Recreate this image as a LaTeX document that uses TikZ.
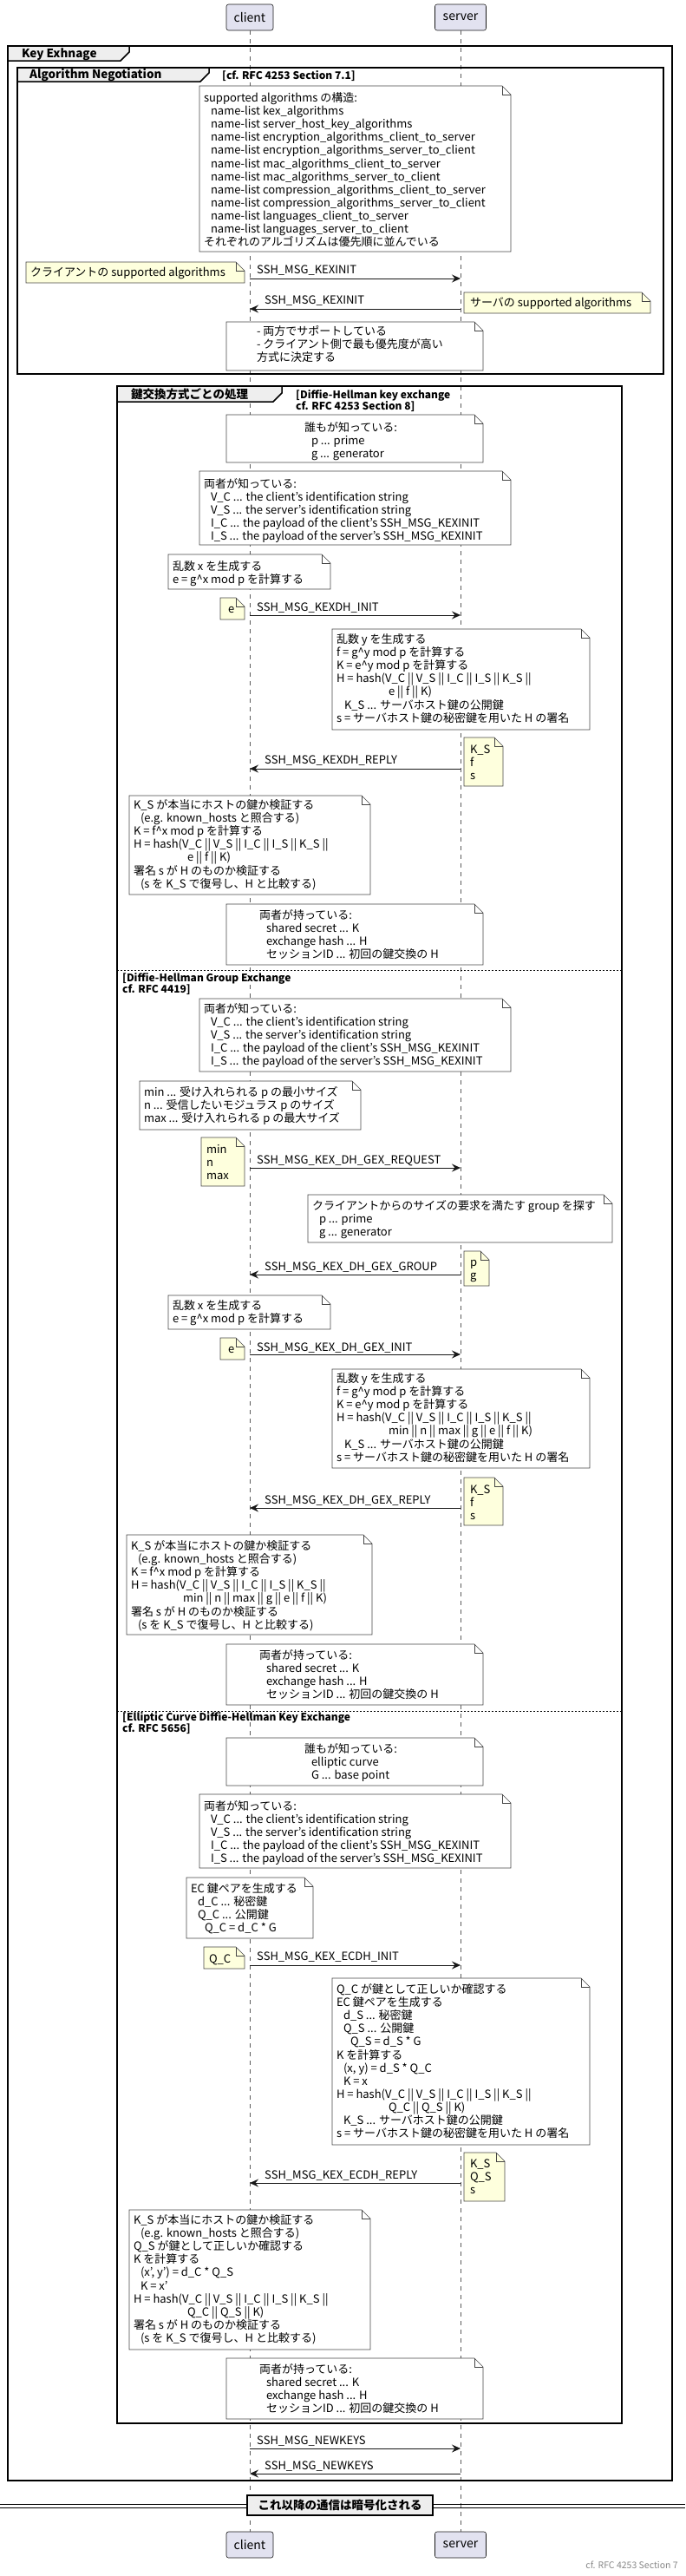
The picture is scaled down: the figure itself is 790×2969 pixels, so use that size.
\documentclass[tikz,border=0pt]{standalone}
\usepackage{fontspec}
\setmainfont{Noto Sans CJK JP}
\usetikzlibrary{arrows.meta,fit}
\definecolor{lineclr}{HTML}{181818}
\definecolor{partfill}{HTML}{E2E2F0}
\definecolor{notey}{HTML}{FEFFDD}
\definecolor{tabfill}{HTML}{EEEEEE}
\definecolor{footgray}{HTML}{888888}
\newcommand{\ind}[1][8]{\hspace*{#1pt}}
\newcommand{\ca}{\textasciicircum}
\newcommand{\ml}[1]{\vtop{\let\\\cr\halign{##\hfil\cr#1\crcr}}}
\newcommand{\notebox}[6]{%
  \coordinate (#1-a) at (#2,#3);
  \coordinate (#1-b) at (#4,#5);
  \node[fit=(#1-a)(#1-b), inner sep=0pt, outer sep=0pt] (#1) {};
  \filldraw[notepath, fill=#6] (#1.north west) -- ([xshift=-10pt]#1.north east) -- ([yshift=-10pt]#1.north east) -- (#1.south east) -- (#1.south west) -- cycle;
  \draw[notepath] ([xshift=-10pt]#1.north east) |- ([yshift=-10pt]#1.north east);
}
\begin{document}
\begin{tikzpicture}[x=1pt,y=-1pt,
  notetext/.style={font=\fontsize{13}{15.1}\selectfont, inner sep=0pt, outer sep=0pt, anchor=base west},
  lbl/.style={font=\fontsize{13}{15}\selectfont, inner sep=0pt, anchor=base west},
  ttl/.style={font=\fontsize{13.5}{15}\selectfont\bfseries, inner sep=0pt, anchor=base west},
  guard/.style={font=\fontsize{12}{13}\selectfont\bfseries, inner sep=0pt, anchor=base west},
  part/.style={draw=lineclr, fill=partfill, line width=0.6pt, rounded corners=2.5pt, minimum height=30pt, font=\fontsize{14}{16}\selectfont, inner sep=0pt},
  life/.style={draw=lineclr!70, line width=0.6pt, dash pattern=on 5pt off 5pt},
  msg/.style={draw=lineclr, line width=1pt, -{Stealth[length=10pt,width=9pt,inset=3.5pt]}},
  notepath/.style={draw=lineclr!80, line width=0.6pt},
  framebox/.style={draw=black, line width=1.5pt},
  tab/.style={draw=black, line width=1.5pt, fill=tabfill},
  sep/.style={draw=black, line width=0.8pt, dash pattern=on 2pt off 2pt},
]
\useasboundingbox (0,0) rectangle (790,2969);
\fill[white] (0,0) rectangle (790,2969);

% participants
\node[part, minimum width=54pt] (clientT) at (288,20) {client};
\node[part, minimum width=59pt] (serverT) at (531,20) {server};
\node[part, minimum width=54pt] (clientB) at (288,2933) {client};
\node[part, minimum width=59pt] (serverB) at (531,2933) {server};
\draw[life] (clientT.south) -- (clientB.north);
\draw[life] (serverT.south) -- (serverB.north);

% frames
\draw[framebox] (9,53) rectangle (775,2859);
\filldraw[tab] (9,53) -- (149,53) -- (149,60) -- (139,70) -- (9,70) -- cycle;
\node[ttl] (keT) at (25,66.5) {Key Exhnage};

\draw[framebox] (20,78) rectangle (765,431);
\filldraw[tab] (20,78) -- (241,78) -- (241,84) -- (231,94) -- (20,94) -- cycle;
\node[ttl] (anT) at (34,90.5) {Algorithm Negotiation};
\node[guard] (anG) at (256,91) {[cf. RFC 4253 Section 7.1]};

\draw[framebox] (135,445) rectangle (717,2793);
\filldraw[tab] (135,445) -- (325,445) -- (325,453) -- (315,463) -- (135,463) -- cycle;
\node[ttl] (altT) at (151,459) {鍵交換方式ごとの処理};
\node[guard] (altG1) at (341,459) {\ml{[Diffie-Hellman key exchange\\cf. RFC 4253 Section 8]}};
\draw[sep] (135,1118) -- (717,1118);
\node[guard] (altG2) at (141,1131) {\ml{[Diffie-Hellman Group Exchange\\cf. RFC 4419]}};
\draw[sep] (135,1972) -- (717,1972);
\node[guard] (altG3) at (141,1983) {\ml{[Elliptic Curve Diffie-Hellman Key Exchange\\cf. RFC 5656]}};

% ---------- Algorithm negotiation
\notebox{n1}{230}{99}{589}{290}{white}
\node[notetext] (n1t) at (235,117.5) {\ml{supported algorithms の構造:\\
\ind name-list kex\_algorithms\\
\ind name-list server\_host\_key\_algorithms\\
\ind name-list encryption\_algorithms\_client\_to\_server\\
\ind name-list encryption\_algorithms\_server\_to\_client\\
\ind name-list mac\_algorithms\_client\_to\_server\\
\ind name-list mac\_algorithms\_server\_to\_client\\
\ind name-list compression\_algorithms\_client\_to\_server\\
\ind name-list compression\_algorithms\_server\_to\_client\\
\ind name-list languages\_client\_to\_server\\
\ind name-list languages\_server\_to\_client\\
それぞれのアルゴリズムは優先順に並んでいる}};

\notebox{nL}{30}{302}{282}{326}{notey}
\node[notetext] (nLt) at (35,318.5) {クライアントの supported algorithms};
\coordinate (c1) at (288,321); \coordinate (s1) at (531,321);
\draw[msg] (c1) -- (s1);
\node[lbl] (l1) at (296,315.5) {SSH\_MSG\_KEXINIT};

\notebox{nR}{535}{337}{750}{361}{notey}
\node[notetext] (nRt) at (542,353.5) {サーバの supported algorithms};
\coordinate (c2) at (288,356); \coordinate (s2) at (531,356);
\draw[msg] (s2) -- (c2);
\node[lbl] (l2) at (305,350.5) {SSH\_MSG\_KEXINIT};

\notebox{n3}{261}{371}{557}{427}{white}
\node[notetext] (n3t) at (296,386.5) {\ml{- 両方でサポートしている\\- クライアント側で最も優先度が高い\\方式に決定する}};

% ---------- DH
\notebox{d1}{261}{478}{557}{533}{white}
\node[notetext] (d1t) at (351,497.5) {\ml{誰もが知っている:\\\ind p ... prime\\\ind g ... generator}};

\notebox{d2}{230}{543}{589}{628}{white}
\node[notetext] (d2t) at (235,562.5) {\ml{両者が知っている:\\
\ind V\_C ... the client's identification string\\
\ind V\_S ... the server's identification string\\
\ind I\_C ... the payload of the client's SSH\_MSG\_KEXINIT\\
\ind I\_S ... the payload of the server's SSH\_MSG\_KEXINIT}};

\notebox{d3}{194}{639}{381}{679}{white}
\node[notetext] (d3t) at (199,657.5) {\ml{乱数 x を生成する\\e = g\ca x mod p を計算する}};

\notebox{d4}{254}{689}{282}{714}{notey}
\node[notetext] (d4t) at (263,706) {e};
\coordinate (c3) at (288,709); \coordinate (s3) at (531,709);
\draw[msg] (c3) -- (s3);
\node[lbl] (l3) at (296,704.5) {SSH\_MSG\_KEXDH\_INIT};

\notebox{d5}{383}{725}{680}{841}{white}
\node[notetext] (d5t) at (388,741.5) {\ml{乱数 y を生成する\\
f = g\ca y mod p を計算する\\
K = e\ca y mod p を計算する\\
H = hash(V\_C || V\_S || I\_C || I\_S || K\_S ||\\
\ind[60]e || f || K)\\
\ind[9]K\_S ... サーバホスト鍵の公開鍵\\
s = サーバホスト鍵の秘密鍵を用いた H の署名}};

\notebox{d6}{535}{850}{580}{906}{notey}
\node[notetext] (d6t) at (542,868.5) {\ml{K\_S\\f\\s}};
\coordinate (c4) at (288,886); \coordinate (s4) at (531,886);
\draw[msg] (s4) -- (c4);
\node[lbl] (l4) at (305,880.5) {SSH\_MSG\_KEXDH\_REPLY};

\notebox{d7}{149}{917}{427}{1031}{white}
\node[notetext] (d7t) at (154,932.5) {\ml{K\_S が本当にホストの鍵か検証する\\
\ind (e.g. known\_hosts と照合する)\\
K = f\ca x mod p を計算する\\
H = hash(V\_C || V\_S || I\_C || I\_S || K\_S ||\\
\ind[62]e || f || K)\\
署名 s が H のものか検証する\\
\ind (s を K\_S で復号し、H と比較する)}};

\notebox{d8}{261}{1042}{557}{1112}{white}
\node[notetext] (d8t) at (299,1059.5) {\ml{両者が持っている:\\
\ind shared secret ... K\\
\ind exchange hash ... H\\
\ind セッションID ... 初回の鍵交換の H}};

% ---------- DH group exchange
\notebox{g1}{230}{1151}{589}{1235}{white}
\node[notetext] (g1t) at (235,1167.5) {\ml{両者が知っている:\\
\ind V\_C ... the client's identification string\\
\ind V\_S ... the server's identification string\\
\ind I\_C ... the payload of the client's SSH\_MSG\_KEXINIT\\
\ind I\_S ... the payload of the server's SSH\_MSG\_KEXINIT}};

\notebox{g2}{161}{1246}{416}{1302}{white}
\node[notetext] (g2t) at (166,1263.5) {\ml{min ... 受け入れられる p の最小サイズ\\
n ... 受信したいモジュラス p のサイズ\\
max ... 受け入れられる p の最大サイズ}};

\notebox{g3}{232}{1311}{282}{1367}{notey}
\node[notetext] (g3t) at (238,1329.5) {\ml{min\\n\\max}};
\coordinate (c5) at (288,1346); \coordinate (s5) at (531,1346);
\draw[msg] (c5) -- (s5);
\node[lbl] (l5) at (296,1341.5) {SSH\_MSG\_KEX\_DH\_GEX\_REQUEST};

\notebox{g4}{355}{1377}{706}{1432}{white}
\node[notetext] (g4t) at (360,1394.5) {\ml{クライアントからのサイズの要求を満たす group を探す\\
\ind p ... prime\\
\ind g ... generator}};

\notebox{g5}{535}{1442}{564}{1482}{notey}
\node[notetext] (g5t) at (542,1459.5) {\ml{p\\g}};
\coordinate (c6) at (288,1469); \coordinate (s6) at (531,1469);
\draw[msg] (s6) -- (c6);
\node[lbl] (l6) at (305,1464.5) {SSH\_MSG\_KEX\_DH\_GEX\_GROUP};

\notebox{g6}{194}{1493}{381}{1532}{white}
\node[notetext] (g6t) at (199,1509.5) {\ml{乱数 x を生成する\\e = g\ca x mod p を計算する}};

\notebox{g7}{254}{1542}{282}{1567}{notey}
\node[notetext] (g7t) at (263,1559) {e};
\coordinate (c7) at (288,1561); \coordinate (s7) at (531,1561);
\draw[msg] (c7) -- (s7);
\node[lbl] (l7) at (296,1557.5) {SSH\_MSG\_KEX\_DH\_GEX\_INIT};

\notebox{g8}{383}{1578}{680}{1692}{white}
\node[notetext] (g8t) at (388,1593.5) {\ml{乱数 y を生成する\\
f = g\ca y mod p を計算する\\
K = e\ca y mod p を計算する\\
H = hash(V\_C || V\_S || I\_C || I\_S || K\_S ||\\
\ind[60]min || n || max || g || e || f || K)\\
\ind[9]K\_S ... サーバホスト鍵の公開鍵\\
s = サーバホスト鍵の秘密鍵を用いた H の署名}};

\notebox{g9}{535}{1703}{580}{1758}{notey}
\node[notetext] (g9t) at (542,1721.5) {\ml{K\_S\\f\\s}};
\coordinate (c8) at (288,1738); \coordinate (s8) at (531,1738);
\draw[msg] (s8) -- (c8);
\node[lbl] (l8) at (305,1733.5) {SSH\_MSG\_KEX\_DH\_GEX\_REPLY};

\notebox{g10}{146}{1769}{429}{1884}{white}
\node[notetext] (g10t) at (151,1786.5) {\ml{K\_S が本当にホストの鍵か検証する\\
\ind (e.g. known\_hosts と照合する)\\
K = f\ca x mod p を計算する\\
H = hash(V\_C || V\_S || I\_C || I\_S || K\_S ||\\
\ind[60]min || n || max || g || e || f || K)\\
署名 s が H のものか検証する\\
\ind (s を K\_S で復号し、H と比較する)}};

\notebox{g11}{261}{1895}{557}{1965}{white}
\node[notetext] (g11t) at (299,1912.5) {\ml{両者が持っている:\\
\ind shared secret ... K\\
\ind exchange hash ... H\\
\ind セッションID ... 初回の鍵交換の H}};

% ---------- ECDH
\notebox{e1}{261}{2003}{557}{2058}{white}
\node[notetext] (e1t) at (351,2020.5) {\ml{誰もが知っている:\\\ind elliptic curve\\\ind G ... base point}};

\notebox{e2}{230}{2068}{589}{2153}{white}
\node[notetext] (e2t) at (235,2086.5) {\ml{両者が知っている:\\
\ind V\_C ... the client's identification string\\
\ind V\_S ... the server's identification string\\
\ind I\_C ... the payload of the client's SSH\_MSG\_KEXINIT\\
\ind I\_S ... the payload of the server's SSH\_MSG\_KEXINIT}};

\notebox{e3}{215}{2164}{361}{2234}{white}
\node[notetext] (e3t) at (220,2181.5) {\ml{EC 鍵ペアを生成する\\
\ind d\_C ... 秘密鍵\\
\ind Q\_C ... 公開鍵\\
\ind[16]Q\_C = d\_C * G}};

\notebox{e4}{235}{2244}{282}{2269}{notey}
\node[notetext] (e4t) at (241,2262.5) {Q\_C};
\coordinate (c9) at (288,2265); \coordinate (s9) at (531,2265);
\draw[msg] (c9) -- (s9);
\node[lbl] (l9) at (296,2259.5) {SSH\_MSG\_KEX\_ECDH\_INIT};

\notebox{e5}{383}{2280}{680}{2472}{white}
\node[notetext] (e5t) at (388,2297.5) {\ml{Q\_C が鍵として正しいか確認する\\
EC 鍵ペアを生成する\\
\ind d\_S ... 秘密鍵\\
\ind Q\_S ... 公開鍵\\
\ind[16]Q\_S = d\_S * G\\
K を計算する\\
\ind (x, y) = d\_S * Q\_C\\
\ind K = x\\
H = hash(V\_C || V\_S || I\_C || I\_S || K\_S ||\\
\ind[60]Q\_C || Q\_S || K)\\
\ind K\_S ... サーバホスト鍵の公開鍵\\
s = サーバホスト鍵の秘密鍵を用いた H の署名}};

\notebox{e6}{535}{2481}{582}{2537}{notey}
\node[notetext] (e6t) at (542,2498.5) {\ml{K\_S\\Q\_S\\s}};
\coordinate (c10) at (288,2516); \coordinate (s10) at (531,2516);
\draw[msg] (s10) -- (c10);
\node[lbl] (l10) at (305,2511.5) {SSH\_MSG\_KEX\_ECDH\_REPLY};

\notebox{e7}{149}{2547}{427}{2708}{white}
\node[notetext] (e7t) at (154,2563.5) {\ml{K\_S が本当にホストの鍵か検証する\\
\ind (e.g. known\_hosts と照合する)\\
Q\_S が鍵として正しいか確認する\\
K を計算する\\
\ind (x', y') = d\_C * Q\_S\\
\ind K = x'\\
H = hash(V\_C || V\_S || I\_C || I\_S || K\_S ||\\
\ind[62]Q\_C || Q\_S || K)\\
署名 s が H のものか検証する\\
\ind (s を K\_S で復号し、H と比較する)}};

\notebox{e8}{261}{2718}{557}{2788}{white}
\node[notetext] (e8t) at (299,2735.5) {\ml{両者が持っている:\\
\ind shared secret ... K\\
\ind exchange hash ... H\\
\ind セッションID ... 初回の鍵交換の H}};

% ---------- NEWKEYS
\coordinate (c11) at (288,2822); \coordinate (s11) at (531,2822);
\draw[msg] (c11) -- (s11);
\node[lbl] (l11) at (296,2817.5) {SSH\_MSG\_NEWKEYS};
\coordinate (c12) at (288,2851); \coordinate (s12) at (531,2851);
\draw[msg] (s12) -- (c12);
\node[lbl] (l12) at (305,2846.5) {SSH\_MSG\_NEWKEYS};

% divider
\draw[line width=1pt] (0,2886) -- (790,2886);
\draw[line width=1pt] (0,2890) -- (790,2890);
\node[draw=black, line width=1.5pt, fill=tabfill, minimum width=214pt, minimum height=23pt, inner sep=0pt, font=\fontsize{13.5}{15}\selectfont\bfseries] (div) at (392,2887.5) {これ以降の通信は暗号化される};

% footer
\node[font=\fontsize{10.5}{12}\selectfont, text=footgray, anchor=base east, inner sep=0pt] (foot) at (782,2960) {cf. RFC 4253 Section 7};
\end{tikzpicture}
\end{document}
